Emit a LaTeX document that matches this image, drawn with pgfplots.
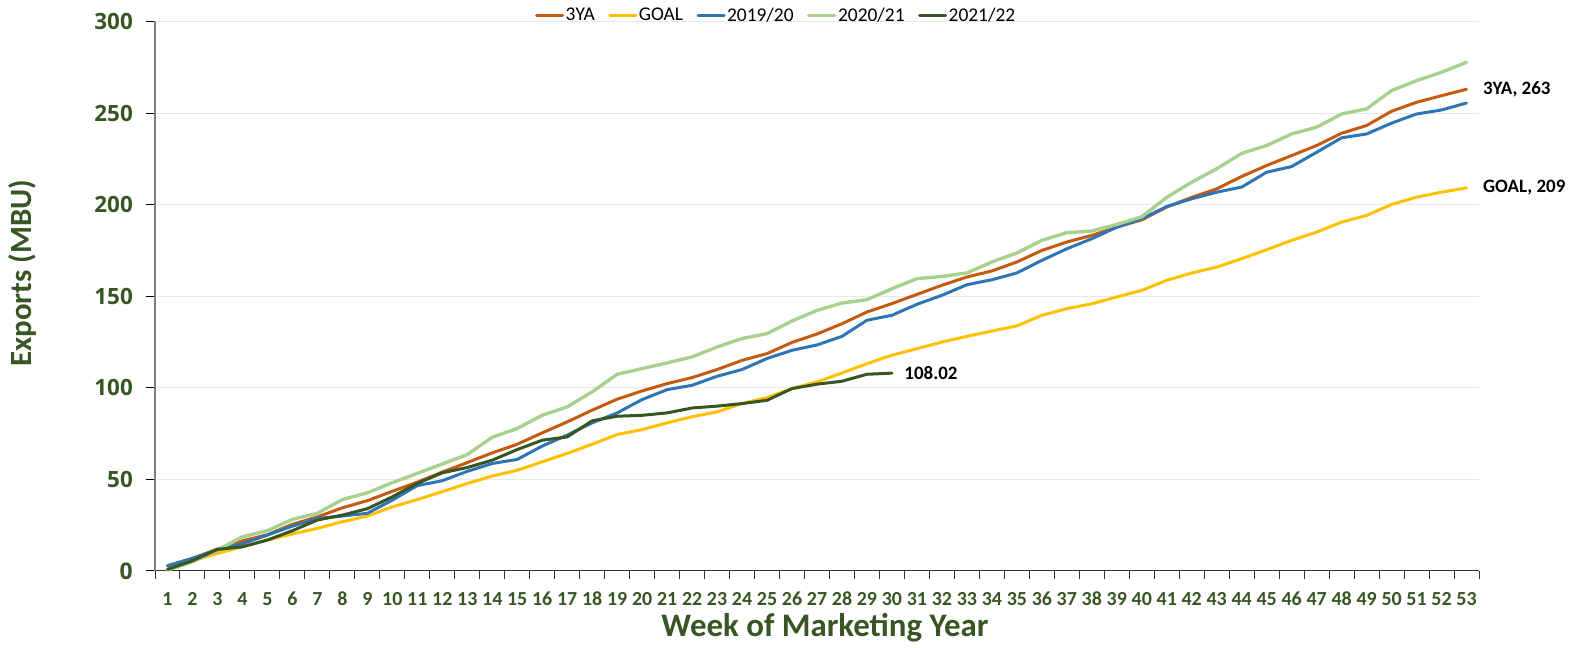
\documentclass[border=0pt]{standalone}
\usepackage{fontspec}
\setmainfont{Carlito}
\newfontfamily\yfont{Open Sans}
\usepackage{pgfplots}
\usepackage{pgfplotstable}
\pgfplotsset{compat=1.18}
\definecolor{dkgreen}{HTML}{375623}
\definecolor{c3ya}{HTML}{C55A11}
\definecolor{cgoal}{HTML}{FFC000}
\definecolor{c1920}{HTML}{2E75B6}
\definecolor{c2021}{HTML}{A9D18E}
\definecolor{c2122}{HTML}{375623}

\pgfplotstableread{
w a g b l
1 2.7 1.0 2.9 0.5
2 6.9 5.6 6.9 5.0
3 12.0 9.6 11.5 11.5
4 16.5 13.3 14.9 18.7
5 19.8 16.9 19.6 22.0
6 25.5 20.2 24.5 28.2
7 29.5 23.3 28.7 31.5
8 34.5 26.9 30.0 39.0
9 38.4 30.0 31.5 42.7
10 43.5 35.0 38.7 48.2
11 48.5 39.0 46.6 53.3
12 54.0 43.3 49.3 58.4
13 59.2 47.8 54.4 63.6
14 64.5 51.8 58.7 73.0
15 69.2 55.0 60.9 77.8
16 75.4 59.6 68.2 85.0
17 81.4 64.2 74.2 89.6
18 87.8 69.2 80.9 97.8
19 93.8 74.5 86.3 107.4
20 98.3 77.2 93.6 110.5
21 102.3 80.9 99.0 113.6
22 105.6 84.2 101.4 116.9
23 110.0 86.9 106.3 122.3
24 115.0 91.4 110.0 126.9
25 118.7 94.7 116.0 129.6
26 124.8 99.6 120.5 136.5
27 129.4 103.2 123.4 142.3
28 135.0 108.1 128.1 146.3
29 141.4 113.2 136.9 148.1
30 146.0 117.8 139.6 154.1
31 151.0 121.4 145.6 159.6
32 156.0 125.0 150.5 160.8
33 160.5 128.1 156.3 162.7
34 163.8 131.0 159.0 168.7
35 168.7 133.8 162.7 173.6
36 175.0 139.6 169.6 180.5
37 179.6 143.2 175.9 184.7
38 183.2 145.9 181.4 185.6
39 187.7 149.6 187.7 189.2
40 191.7 153.2 192.3 193.4
41 198.7 158.7 199.0 204.0
42 204.0 162.7 203.2 212.3
43 208.6 165.9 206.8 219.6
44 215.4 170.5 209.6 228.0
45 221.4 175.4 217.7 232.3
46 226.8 180.5 220.8 238.6
47 232.3 185.0 228.6 242.3
48 239.0 190.5 236.5 249.5
49 243.2 194.1 238.6 252.3
50 251.0 200.1 244.5 262.3
51 255.9 204.1 249.5 267.7
52 259.5 206.8 251.7 272.3
53 263.0 209.2 255.5 277.7
}\mainData

\pgfplotstableread{
w d
1 0.9
2 5.6
3 11.8
4 13.2
5 16.9
6 22.0
7 27.8
8 30.5
9 34.0
10 40.5
11 47.8
12 53.6
13 56.5
14 60.5
15 66.3
16 71.4
17 73.2
18 82.0
19 84.5
20 85.0
21 86.3
22 89.0
23 90.0
24 91.4
25 93.2
26 99.6
27 102.0
28 103.6
29 107.4
30 108.02
}\curData

\begin{document}
\begin{tikzpicture}[x=1bp,y=1bp]
\useasboundingbox (0,0) rectangle (1585,648);
\begin{axis}[
  at={(155bp,77bp)}, anchor=south west,
  scale only axis, width=1324bp, height=549.5bp,
  xmin=0.5, xmax=53.5, ymin=0, ymax=300,
  axis lines*=left,
  x axis line style={draw=black!80, line width=1bp},
  y axis line style={draw=black!50, line width=1.6bp},
  tick align=outside,
  xtick={1,...,53},
  minor xtick={0.5,1.5,...,53.5},
  major x tick style={draw=none},
  minor x tick style={draw=black!80, line width=1bp},
  minor tick length=8bp,
  major tick length=9bp,
  major y tick style={draw=black, line width=1bp},
  ytick={0,50,...,300},
  yticklabels={{\fontsize{23}{23}\selectfont\bfseries 0},50,100,150,200,250,300},
  /pgf/number format/assume math mode=true,
  xticklabel style={font=\fontsize{20}{20}\selectfont\bfseries, text=dkgreen, inner sep=0pt, anchor=north, yshift=-12bp},
  yticklabel style={font=\yfont\fontsize{22.5}{22.5}\selectfont\bfseries, text=dkgreen, inner sep=0pt, anchor=east, xshift=-13bp},
  ymajorgrids,
  grid style={draw=black!9, line width=1bp},
  legend columns=-1,
  legend style={at={(0.469,1.011)}, anchor=center, draw=none, fill=none,
    font=\fontsize{19.5}{19.5}\selectfont, inner sep=0pt,
    nodes={font=\fontsize{19.5}{19.5}\selectfont, inner sep=1.5bp, text=black},
    /tikz/every even column/.append style={column sep=12bp}},
  legend image code/.code={\draw[#1] (0bp,0bp) -- (26bp,0bp);},
  every axis plot/.append style={line width=3bp, line join=round, line cap=round},
  clip=false,
]
\addplot[c3ya] table[x=w,y=a] {\mainData}
  node[pos=1, anchor=west, inner sep=0pt, xshift=15bp, font=\fontsize{19}{19}\selectfont\bfseries, text=black] {3YA, 263};
\addplot[cgoal] table[x=w,y=g] {\mainData}
  node[pos=1, anchor=west, inner sep=0pt, xshift=15bp, font=\fontsize{19}{19}\selectfont\bfseries, text=black] {GOAL, 209};
\addplot[c1920] table[x=w,y=b] {\mainData};
\addplot[c2021, line width=3.4bp] table[x=w,y=l] {\mainData};
\addplot[c2122] table[x=w,y=d] {\curData}
  node[pos=1, anchor=west, inner sep=0pt, xshift=11bp, font=\fontsize{19}{19}\selectfont\bfseries, text=black] {108.02};
\legend{3YA,GOAL,2019/20,2020/21,2021/22}
\end{axis}
\node[font=\fontsize{33}{33}\selectfont\bfseries, text=dkgreen] at (825,20) {Week of Marketing Year};
\node[font=\fontsize{31}{31}\selectfont\bfseries, text=dkgreen, rotate=90] at (22,375) {Exports (MBU)};
\end{tikzpicture}
\end{document}
